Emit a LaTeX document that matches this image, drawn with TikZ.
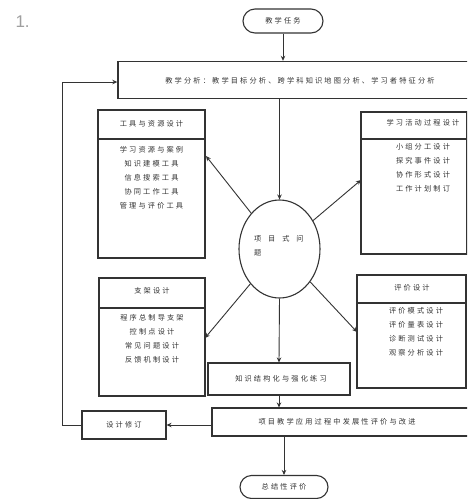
\documentclass[tikz,border=0pt]{standalone}
\usepackage{fontspec}
\setmainfont{Liberation Sans}
\newfontfamily\cjk[LetterSpace=30]{Noto Sans CJK SC}
\newfontfamily\cjkw[LetterSpace=95]{Noto Sans CJK SC}
\usetikzlibrary{shapes.misc,shapes.geometric,arrows.meta}
\definecolor{ln}{HTML}{333333}
\tikzset{
  box/.style={draw=ln, line width=1.1pt, rectangle, inner sep=0pt},
  term/.style={draw=ln, line width=1.1pt, rounded rectangle, inner sep=0pt},
  lab/.style={text=ln, font=\cjk\fontsize{7.2}{14}\selectfont, inner sep=0pt, align=center},
  arr/.style={draw=ln, line width=0.9pt, -{Stealth[length=5pt,width=4.5pt]}},
  divl/.style={draw=ln, line width=1.6pt}
}
\begin{document}
\begin{tikzpicture}[x=1pt,y=-1pt]
\clip (0,0) rectangle (467,499);
\fill[white] (0,0) rectangle (467,499);
% number
\node[text=gray!75, font=\fontsize{17}{20}\selectfont, anchor=west] (num) at (12,22) {1.};
% top terminal
\node[term, minimum width=80pt, minimum height=24pt] (start) at (283,21) {};
\node[lab] (startt) at (283,21) {教学任务};
% big analysis box
\node[box, line width=1.4pt, minimum width=360pt, minimum height=37pt] (big) at (298,80) {};
\node[lab] (bigt) at (300,81) {教学分析：教学目标分析、跨学科知识地图分析、学习者特征分析};
% left top box
\node[box, minimum width=107pt, minimum height=148pt] (ltb) at (151.5,184) {};
\draw[divl] (98,139) -- (205,139);
\node[lab] (ltt) at (151.5,124) {工具与资源设计};
\node[lab, anchor=north] (lti) at (151.5,146) {学习资源与案例\\知识建模工具\\信息搜索工具\\协同工作工具\\管理与评价工具};
% right top box
\node[box, minimum width=106pt, minimum height=142pt] (rtb) at (414,183) {};
\draw[divl] (361,139) -- (467,139);
\node[lab] (rtt) at (423,123) {学习活动过程设计};
\node[lab, anchor=north] (rti) at (423,143) {小组分工设计\\探究事件设计\\协作形式设计\\工作计划制订};
% left bottom box
\node[box, minimum width=106pt, minimum height=118pt] (lbb) at (152,337) {};
\draw[divl] (99,308) -- (205,308);
\node[lab] (lbt) at (152,291) {支架设计};
\node[lab, anchor=north] (lbi) at (152,314) {程序总制导支架\\控制点设计\\常见问题设计\\反馈机制设计};
% right bottom box
\node[box, minimum width=109pt, minimum height=113pt] (rbb) at (411.5,331.5) {};
\draw[divl] (357,303) -- (466,303);
\node[lab] (rbt) at (412,288) {评价设计};
\node[lab, anchor=north] (rbi) at (416,307) {评价模式设计\\评价量表设计\\诊断测试设计\\观察分析设计};
% ellipse
\node[draw=ln, line width=1.1pt, ellipse, minimum width=81pt, minimum height=98pt, inner sep=0pt] (ell) at (279.5,249) {};
\node[text=ln, font=\cjkw\fontsize{7.2}{14}\selectfont, inner sep=0pt, align=left, anchor=west] (ellt) at (254,246) {项目式问\\题};
% knowledge box
\node[box, minimum width=142pt, minimum height=32pt] (kn) at (279,379) {};
\node[lab] (knt) at (281,379) {知识结构化与强化练习};
% development box
\node[box, minimum width=258pt, minimum height=28pt] (dev) at (341,422) {};
\node[lab] (devt) at (337,422) {项目教学应用过程中发展性评价与改进};
% design revision
\node[box, minimum width=84pt, minimum height=28pt] (dsg) at (124,425) {};
\node[lab] (dsgt) at (124,425) {设计修订};
% end terminal
\node[term, minimum width=88pt, minimum height=23pt] (stop) at (284,487) {};
\node[lab] (stopt) at (284,487) {总结性评价};
% connectors
\draw[arr] (start.south) -- (big.north -| start.south);
\draw[arr] (ell.north |- big.south) -- (ell.north);
\coordinate (pLT) at (206,156);
\coordinate (pRT) at (361,180);
\coordinate (pLB) at (205,338);
\coordinate (pRB) at (357,332);
\draw[arr] (ell) -- (pLT);
\draw[arr] (ell) -- (pRT);
\draw[arr] (ell) -- (pLB);
\draw[arr] (ell) -- (pRB);
\draw[arr] (ell.south) -- (kn.north);
\draw[arr] (kn.south) -- (kn.south |- dev.north);
\draw[arr] (stop.north |- dev.south) -- (stop.north);
\draw[arr] (dev.west |- dsg.east) -- (dsg.east);
\coordinate (lp) at (62,82);
\draw[arr] (dsg.west) -| (lp) -- (big.west |- lp);
\end{tikzpicture}
\end{document}
